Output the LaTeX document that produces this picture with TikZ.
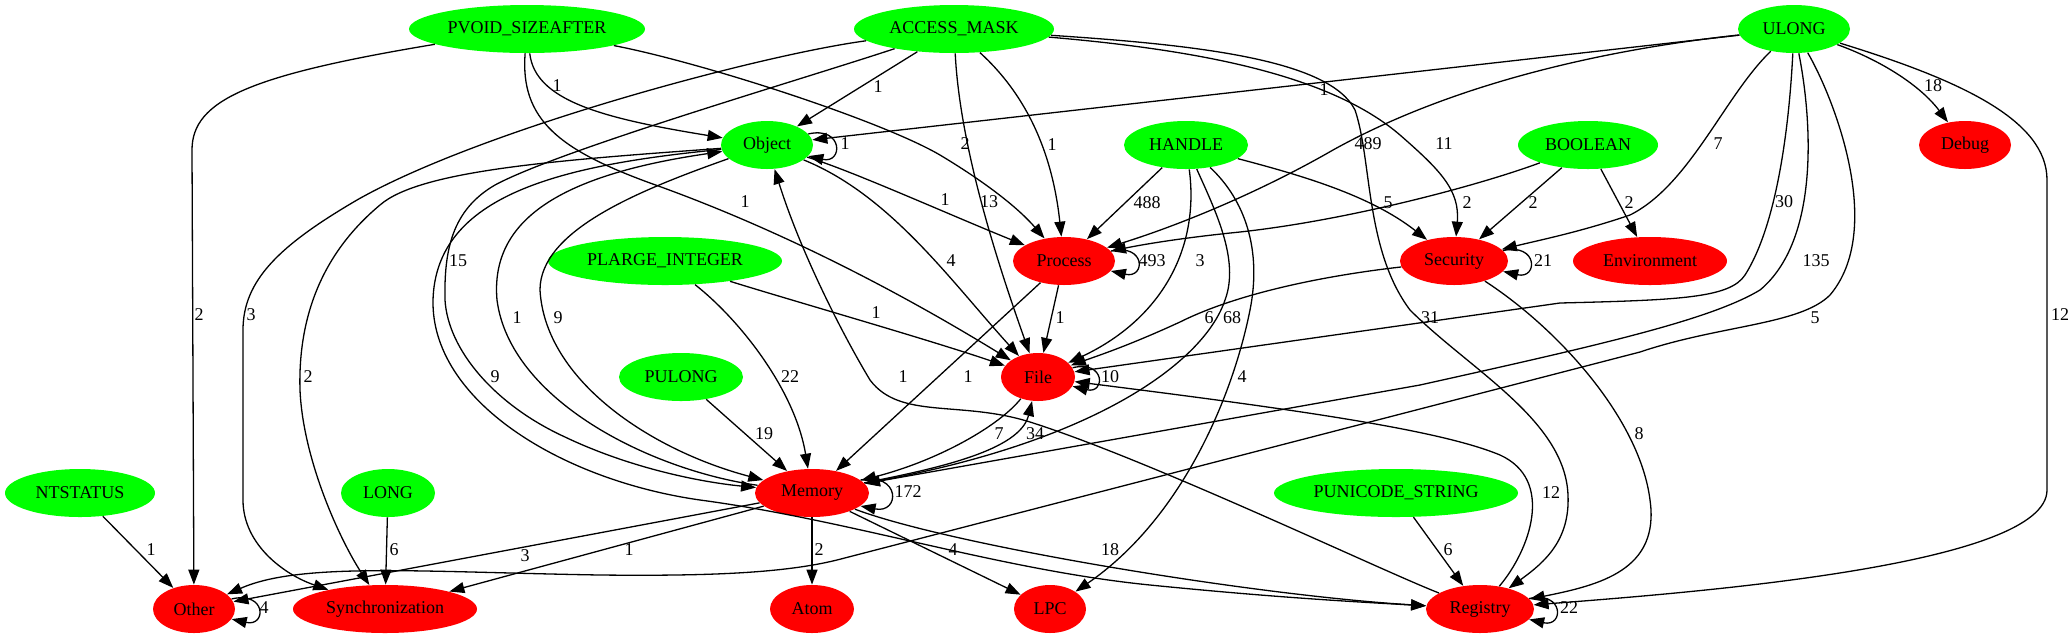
\documentclass[tikz,border=0pt]{standalone}
\usepackage{fontspec}
\setmainfont{Liberation Serif}
\usepackage{tikz}
\usetikzlibrary{arrows.meta,shapes.geometric}
\definecolor{typegreen}{HTML}{00FF00}
\definecolor{catred}{HTML}{FF0000}
\tikzset{typenode/.style={ellipse,fill=typegreen,inner sep=0pt,minimum height=24pt,font=\fontsize{9}{10}\selectfont},catnode/.style={ellipse,fill=catred,inner sep=0pt,minimum height=24pt,font=\fontsize{9}{10}\selectfont},flow/.style={line width=.65pt,-{Triangle[length=7.5pt,width=5.5pt]}},wlabel/.style={inner sep=0pt,font=\fontsize{9}{10}\selectfont}}

\begin{document}
\begin{tikzpicture}[x=0.5pt,y=-0.5pt]
\useasboundingbox (0,0) rectangle (2072,639);
\node[typenode,minimum width=118pt] (pvoid) at (527,29) {PVOID\_SIZEAFTER};
\node[typenode,minimum width=100pt] (amask) at (954,29) {ACCESS\_MASK};
\node[typenode,minimum width=56pt] (ulong) at (1794,29) {ULONG};
\node[typenode,minimum width=46pt] (object) at (767,145) {Object};
\node[typenode,minimum width=62pt] (handle) at (1186,145) {HANDLE};
\node[typenode,minimum width=70pt] (boolean) at (1588,145) {BOOLEAN};
\node[catnode,minimum width=46pt] (debug) at (1965,145) {Debug};
\node[typenode,minimum width=117pt] (plarge) at (665,261) {PLARGE\_INTEGER};
\node[catnode,minimum width=51pt] (process) at (1064,261) {Process};
\node[catnode,minimum width=54pt] (security) at (1454,261) {Security};
\node[catnode,minimum width=77pt] (environ) at (1650,261) {Environment};
\node[typenode,minimum width=62pt] (pulong) at (681,377) {PULONG};
\node[catnode,minimum width=37pt] (file) at (1038,377) {File};
\node[typenode,minimum width=75pt] (ntstatus) at (80,493) {NTSTATUS};
\node[typenode,minimum width=47pt] (long) at (388,493) {LONG};
\node[catnode,minimum width=57pt] (memory) at (812,493) {Memory};
\node[typenode,minimum width=122pt] (punicode) at (1396,493) {PUNICODE\_STRING};
\node[catnode,minimum width=41pt] (other) at (194,609) {Other};
\node[catnode,minimum width=92pt] (sync) at (385,609) {Synchronization};
\node[catnode,minimum width=42pt] (atom) at (812,609) {Atom};
\node[catnode,minimum width=36pt] (lpc) at (1050,609) {LPC};
\node[catnode,minimum width=54pt] (registry) at (1480,609) {Registry};
\draw[flow] (pvoid) .. controls (250,75) and (192,100) .. (192,150) -- (other) node[wlabel,at={(199,315)}] {2};
\draw[flow] (pvoid) .. controls (535,100) and (600,118) .. (object) node[wlabel,at={(557,86)}] {1};
\draw[flow] (pvoid) .. controls (520,120) and (560,150) .. (650,183) .. controls (760,222) and (880,280) .. (file) node[wlabel,at={(745,202)}] {1};
\draw[flow] (pvoid) .. controls (700,62) and (880,120) .. (940,155) .. controls (990,185) and (1020,210) .. (process) node[wlabel,at={(965,144)}] {2};
\draw[flow] (amask) -- (object) node[wlabel,at={(878,87)}] {1};
\draw[flow] (amask) .. controls (1010,80) and (1050,130) .. (process) node[wlabel,at={(1052,145)}] {1};
\draw[flow] (amask) .. controls (960,150) and (1000,270) .. (file) node[wlabel,at={(989,202)}] {13};
\draw[flow] (amask) .. controls (1200,50) and (1330,75) .. (1400,135) .. controls (1440,170) and (1460,190) .. (security) node[wlabel,at={(1444,144)}] {11};
\draw[flow] (amask) .. controls (1200,45) and (1330,60) .. (1355,110) .. controls (1372,160) and (1365,250) .. (1410,310) .. controls (1470,370) and (1565,420) .. (1568,495) .. controls (1570,540) and (1545,562) .. (registry) node[wlabel,at={(1430,318)}] {31};
\draw[flow] (amask) .. controls (760,55) and (480,130) .. (357,200) .. controls (280,245) and (243,280) .. (243,330) -- (243,500) .. controls (243,545) and (285,575) .. (sync) node[wlabel,at={(251,315)}] {3};
\draw[flow] (amask) .. controls (800,80) and (560,150) .. (495,185) .. controls (452,210) and (444,250) .. (445,300) .. controls (448,350) and (495,405) .. (565,437) .. controls (630,468) and (700,482) .. (memory) node[wlabel,at={(458,261)}] {15};
\draw[flow] (ulong) -- (object) node[wlabel,at={(1324,90)}] {1};
\draw[flow] (ulong) .. controls (1880,60) and (1920,85) .. (debug) node[wlabel,at={(1933,86)}] {18};
\draw[flow] (ulong) .. controls (1600,50) and (1450,85) .. (1333,150) .. controls (1260,192) and (1180,225) .. (process) node[wlabel,at={(1368,144)}] {489};
\draw[flow] (ulong) .. controls (1725,95) and (1690,185) .. (1630,215) .. controls (1580,232) and (1540,240) .. (security) node[wlabel,at={(1718,144)}] {7};
\draw[flow] (ulong) .. controls (1790,110) and (1780,220) .. (1745,275) .. controls (1730,298) and (1680,300) .. (1560,303) -- (file) node[wlabel,at={(1784,202)}] {30};
\draw[flow] (ulong) .. controls (1812,120) and (1820,240) .. (1760,290) .. controls (1710,320) and (1600,345) .. (1420,385) -- (memory) node[wlabel,at={(1816,261)}] {135};
\draw[flow] (ulong) .. controls (1835,100) and (1885,230) .. (1830,295) .. controls (1800,325) and (1720,325) .. (1640,352) -- (837,560) .. controls (780,574) and (700,576) .. (600,575) .. controls (420,572) and (300,562) .. (other) node[wlabel,at={(1815,318)}] {5};
\draw[flow] (ulong) .. controls (1960,80) and (2047,120) .. (2047,180) -- (2047,490) .. controls (2047,565) and (1700,592) .. (registry) node[wlabel,at={(2060,315)}] {12};
\draw[flow] (handle) -- (process) node[wlabel,at={(1147,203)}] {488};
\draw[flow] (handle) .. controls (1300,175) and (1370,195) .. (security) node[wlabel,at={(1388,203)}] {5};
\draw[flow] (handle) .. controls (1200,250) and (1160,320) .. (file) node[wlabel,at={(1200,261)}] {3};
\draw[flow] (handle) .. controls (1215,210) and (1240,260) .. (1225,300) .. controls (1205,360) and (1100,440) .. (memory) node[wlabel,at={(1232,318)}] {68};
\draw[flow] (handle) .. controls (1245,200) and (1262,250) .. (1250,310) .. controls (1232,400) and (1180,520) .. (lpc) node[wlabel,at={(1242,377)}] {4};
\draw[flow] (boolean) .. controls (1480,185) and (1350,220) .. (1240,232) .. controls (1180,238) and (1140,245) .. (process) node[wlabel,at={(1467,203)}] {2};
\draw[flow] (boolean) -- (security) node[wlabel,at={(1533,203)}] {2};
\draw[flow] (boolean) -- (environ) node[wlabel,at={(1629,203)}] {2};
\draw[flow] (plarge) .. controls (790,300) and (930,340) .. (file) node[wlabel,at={(876,313)}] {1};
\draw[flow] (plarge) .. controls (740,320) and (795,390) .. (memory) node[wlabel,at={(790,377)}] {22};
\draw[flow] (pulong) -- (memory) node[wlabel,at={(764,434)}] {19};
\draw[flow] (ntstatus) -- (other) node[wlabel,at={(151,550)}] {1};
\draw[flow] (long) -- (sync) node[wlabel,at={(394,550)}] {6};
\draw[flow] (punicode) -- (registry) node[wlabel,at={(1448,550)}] {6};
\draw[flow] (object.15) .. controls +(35,-8) and +(35,8) .. (object.-15) node[wlabel,at={(845,144)}] {1};
\draw[flow] (object) .. controls (850,170) and (950,215) .. (process) node[wlabel,at={(945,200)}] {1};
\draw[flow] (object) .. controls (890,195) and (950,280) .. (file) node[wlabel,at={(951,261)}] {4};
\draw[flow] (object) .. controls (640,190) and (540,230) .. (540,290) .. controls (545,380) and (650,450) .. (memory) node[wlabel,at={(558,318)}] {9};
\draw[flow] (memory) .. controls (650,470) and (510,400) .. (497,300) .. controls (490,220) and (560,175) .. (object) node[wlabel,at={(517,318)}] {1};
\draw[flow] (object) .. controls (560,165) and (436,195) .. (433,300) .. controls (431,400) and (560,480) .. (700,500) .. controls (850,520) and (1000,570) .. (1150,585) .. controls (1280,598) and (1360,602) .. (registry) node[wlabel,at={(495,377)}] {9};
\draw[flow] (object) .. controls (560,160) and (420,170) .. (380,205) .. controls (320,255) and (298,320) .. (300,390) .. controls (303,460) and (340,540) .. (sync) node[wlabel,at={(308,377)}] {2};
\draw[flow] (process.12) .. controls +(35,-8) and +(35,8) .. (process.-12) node[wlabel,at={(1152,261)}] {493};
\draw[flow] (process) -- (file) node[wlabel,at={(1060,318)}] {1};
\draw[flow] (process) -- (memory) node[wlabel,at={(968,377)}] {1};
\draw[flow] (security.12) .. controls +(35,-8) and +(35,8) .. (security.-12) node[wlabel,at={(1543,261)}] {21};
\draw[flow] (security) .. controls (1330,275) and (1240,292) .. (1180,322) .. controls (1130,345) and (1100,355) .. (file) node[wlabel,at={(1209,318)}] {6};
\draw[flow] (security) .. controls (1560,330) and (1640,420) .. (1650,500) .. controls (1660,570) and (1600,585) .. (registry) node[wlabel,at={(1639,434)}] {8};
\draw[flow] (file.15) .. controls +(33,-8) and +(33,8) .. (file.-15) node[wlabel,at={(1110,377)}] {10};
\draw[flow] (file) .. controls (1000,425) and (940,460) .. (memory) node[wlabel,at={(999,434)}] {7};
\draw[flow] (memory) .. controls (940,468) and (1020,450) .. (file) node[wlabel,at={(1035,434)}] {34};
\draw[flow] (memory.15) .. controls +(40,-8) and +(40,8) .. (memory.-15) node[wlabel,at={(908,492)}] {172};
\draw[flow] (memory) -- (atom) node[wlabel,at={(819,550)}] {2};
\draw[flow] (memory) -- (lpc) node[wlabel,at={(953,550)}] {4};
\draw[flow] (memory) .. controls (950,545) and (1250,595) .. (registry) node[wlabel,at={(1110,550)}] {18};
\draw[flow] (memory) -- (other) node[wlabel,at={(525,556)}] {3};
\draw[flow] (memory) -- (sync) node[wlabel,at={(629,550)}] {1};
\draw[flow] (other.15) .. controls +(35,-8) and +(35,8) .. (other.-15) node[wlabel,at={(264,608)}] {4};
\draw[flow] (registry.12) .. controls +(35,-8) and +(35,8) .. (registry.-12) node[wlabel,at={(1569,608)}] {22};
\draw[flow] (registry) .. controls (1530,550) and (1555,480) .. (1500,455) .. controls (1440,430) and (1300,410) .. (file) node[wlabel,at={(1551,493)}] {12};
\draw[flow] (registry) .. controls (1380,570) and (1150,460) .. (1030,422) .. controls (960,400) and (900,420) .. (870,380) .. controls (840,330) and (800,250) .. (object) node[wlabel,at={(903,377)}] {1};
\end{tikzpicture}
\end{document}
